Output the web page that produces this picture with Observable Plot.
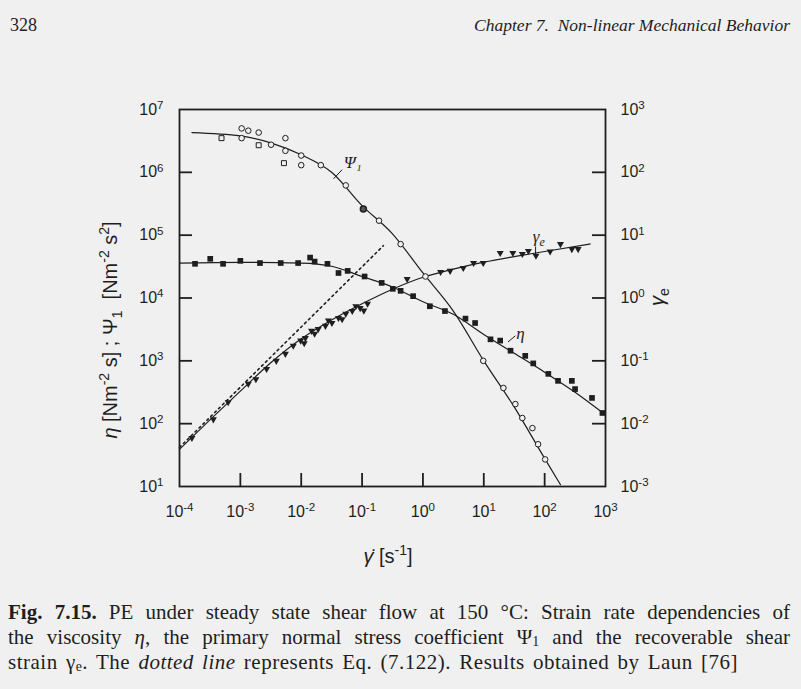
<!DOCTYPE html>
<html><head><meta charset="utf-8">
<script src="https://cdn.jsdelivr.net/npm/d3@7"></script>
<script src="https://cdn.jsdelivr.net/npm/@observablehq/plot@0.6"></script>
<style>
html,body{margin:0;padding:0;}
body{width:801px;height:689px;background:#f0f0f0;position:relative;overflow:hidden;font-family:"Liberation Serif","DejaVu Serif",serif;color:#1e1e1e;}
.abs{position:absolute;white-space:nowrap;}
#chart{position:absolute;left:0;top:0;}
.cap{position:absolute;left:8px;width:782px;font-size:21px;line-height:25px;white-space:nowrap;}
.just{text-align:justify;text-align-last:justify;}
.lab{font-family:"Liberation Sans","DejaVu Sans",sans-serif;font-size:20px;}
sup,sub{font-size:0.7em;line-height:0;}
.cap sub{vertical-align:-0.12em;font-size:0.66em;}
</style></head><body>
<div class="abs" style="left:10px;top:15px;font-size:18px;">328</div>
<div class="abs" style="right:11px;top:15px;font-size:17.5px;font-style:italic;">Chapter 7.&nbsp; Non-linear Mechanical Behavior</div>
<div id="chart"></div>
<div class="abs lab" style="left:110px;top:330px;transform:translate(-50%,-50%) rotate(-90deg);"><i>η</i> [Nm<sup>-2</sup> s] ; Ψ<sub>1</sub> &nbsp;[Nm<sup>-2</sup> s<sup>2</sup>]</div>
<div class="abs lab" style="left:657px;top:297px;transform:translate(-50%,-50%) rotate(-90deg);"><i>γ</i><sub>e</sub></div>
<div class="abs lab" style="left:388px;top:556px;transform:translate(-50%,-50%);"><i>γ̇</i> [s<sup>-1</sup>]</div>
<div class="cap just" style="top:600px;"><b>Fig. 7.15.</b> PE under steady state shear flow at 150 °C: Strain rate dependencies of</div>
<div class="cap just" style="top:625px;">the viscosity <i>η</i>, the primary normal stress coefficient Ψ<sub>1</sub> and the recoverable shear</div>
<div class="cap" style="top:650px;letter-spacing:0.5px;word-spacing:2.5px;">strain γ<sub>e</sub>. The <i>dotted line</i> represents Eq. (7.122). Results obtained by Laun [76]</div>
<script>
// ---- axes ----
const xTicks = [1e-4, 1e-3, 1e-2, 1e-1, 1, 10, 100, 1000];
const leftTicks = [10, 100, 1e3, 1e4, 1e5, 1e6, 1e7];
const rightOffset = 1e4; // right axis (gamma_e) = left axis / 1e4

// ---- Psi_1 (primary normal stress coefficient) markers ----
const psiRate = [4.9e-4, 1.05e-3, 1.05e-3, 1.35e-3, 2.0e-3, 2.0e-3, 3.2e-3, 5.5e-3, 5.5e-3, 5.2e-3, 1.0e-2, 1.0e-2, 2.1e-2, 5.4e-2, 0.105, 0.19, 0.43, 1.1, 9.8, 21, 33, 43, 63, 78, 102];
const psiVal  = [3.5e6, 5.0e6, 3.5e6, 4.6e6, 4.3e6, 2.7e6, 2.75e6, 3.5e6, 2.2e6, 1.4e6, 1.85e6, 1.3e6, 1.3e6, 6.2e5, 2.6e5, 1.7e5, 7.2e4, 2.2e4, 1.0e3, 370, 205, 123, 85, 47, 27];
const psiKind = ["square","circle","circle","circle","circle","square","circle","circle","circle","square","circle","circle","circle","circle","filled","circle","circle","circle","circle","circle","circle","circle","circle","circle","circle"];
// Psi_1 fitted curve
const psiLineRate = [1.6e-4, 1e-3, 3.16e-3, 1e-2, 3.16e-2, 0.1, 0.316, 1, 3.16, 10, 31.6, 100, 182];
const psiLineVal  = [4.3e6, 3.8e6, 2.95e6, 1.9e6, 1.0e6, 2.95e5, 1.05e5, 2.5e4, 6.2e3, 1.0e3, 185, 28, 10.7];

// ---- eta (viscosity) markers ----
const etaRate = [1.8e-4, 3.2e-4, 5.2e-4, 1e-3, 2.1e-3, 4.6e-3, 8.9e-3, 1.4e-2, 1.66e-2, 2.7e-2, 4.1e-2, 5.8e-2, 0.11, 0.21, 0.32, 0.43, 0.69, 1.3, 2.3, 5.0, 7.2, 12.9, 18.6, 27.5, 48, 65, 115, 166, 280, 316, 600, 890];
const etaVal  = [3.5e4, 4.2e4, 3.5e4, 3.9e4, 3.6e4, 3.6e4, 3.6e4, 4.4e4, 3.8e4, 3.5e4, 2.5e4, 2.7e4, 2.2e4, 1.74e4, 1.4e4, 1.3e4, 1.07e4, 7.4e3, 6.2e3, 4.7e3, 4.0e3, 2.2e3, 2.1e3, 1.45e3, 1.2e3, 910, 620, 480, 480, 355, 257, 148];
const etaLineRate = [1e-4, 1e-3, 1e-2, 3.16e-2, 0.1, 0.316, 1, 3.16, 10, 31.6, 100, 316, 890];
const etaLineVal  = [3.6e4, 3.7e4, 3.6e4, 3.2e4, 2.2e4, 1.5e4, 8.7e3, 5.5e3, 2.63e3, 1.32e3, 660, 316, 150];

// ---- gamma_e (recoverable shear strain) markers, right axis ----
const geRate = [1.6e-4, 3.6e-4, 6.3e-4, 1.35e-3, 1.8e-3, 2.7e-3, 3.9e-3, 5.5e-3, 7.4e-3, 9.8e-3, 1.12e-2, 1.17e-2, 1.48e-2, 1.66e-2, 1.9e-2, 2.5e-2, 2.8e-2, 3.2e-2, 4.1e-2, 4.7e-2, 5.4e-2, 6.9e-2, 7.9e-2, 9.3e-2, 0.107, 0.123, 0.55, 1.95, 2.8, 4.6, 6.8, 9.8, 18.6, 30, 43, 54, 72, 123, 182, 280, 355];
const geVal  = [5.9e-3, 1.17e-2, 2.2e-2, 4.3e-2, 5.1e-2, 7.4e-2, 0.10, 0.129, 0.174, 0.21, 0.19, 0.23, 0.30, 0.27, 0.32, 0.36, 0.44, 0.40, 0.48, 0.46, 0.56, 0.62, 0.74, 0.69, 0.63, 0.81, 2.0, 2.6, 2.7, 3.0, 3.6, 3.6, 5.2, 5.2, 5.0, 5.6, 4.7, 5.5, 7.2, 6.0, 6.0];
const geLineRate = [1e-4, 3.16e-4, 1e-3, 3.16e-3, 1e-2, 3.16e-2, 0.1, 0.316, 1, 3.16, 10, 31.6, 100, 562];
const geLineVal  = [3.9e-3, 1.15e-2, 3.3e-2, 9.3e-2, 0.224, 0.447, 0.81, 1.38, 2.14, 2.88, 3.72, 4.57, 5.5, 7.24];
// dotted line: Eq. (7.122)
const eqRate = [1e-4, 0.224];
const eqVal  = [4.2e-3, 6.8];

// ---- curve annotations ----
const annText = ["Ψ₁", "η", "γe"];
const annRate = [0.05, 34, 64];
const annVal  = [1.43e6, 2.7e3, 9.4e4];
const leadRate1 = [0.034, 25, 71];
const leadVal1  = [7.9e5, 2.0e3, 6.6e4];
const leadRate2 = [0.047, 33, 71];
const leadVal2  = [1.1e6, 2.5e3, 4.75e4];

const zip = (xs, ys, extra = {}) => xs.map((x, i) => Object.assign({x, y: ys[i]}, Object.fromEntries(Object.entries(extra).map(([k, v]) => [k, v[i]]))));
const psi = zip(psiRate, psiVal, {k: psiKind});
const eta = zip(etaRate, etaVal);
const ge = zip(geRate, geVal.map(v => v * rightOffset));
const psiLine = zip(psiLineRate, psiLineVal);
const etaLine = zip(etaLineRate, etaLineVal);
const geLine = zip(geLineRate, geLineVal.map(v => v * rightOffset));
const eqLine = zip(eqRate, eqVal.map(v => v * rightOffset));
const ann = zip(annRate, annVal, {t: annText});
const leads = leadRate1.map((x, i) => ({x1: x, y1: leadVal1[i], x2: leadRate2[i], y2: leadVal2[i]}));

const ink = "#1e1e1e";
const W = 801, H = 580;
const mL = 179, mR = 196, mT = 109, mB = 94;
const fw = W - mL - mR, fh = H - mT - mB;
const e10 = d => Math.round(Math.log10(d));

const plot = Plot.plot({
  width: W, height: H,
  marginLeft: mL, marginRight: mR, marginTop: mT, marginBottom: mB,
  style: {background: "transparent", color: ink, fontFamily: "'Liberation Sans','DejaVu Sans',sans-serif", fontSize: "16px"},
  x: {type: "log", domain: [1e-4, 1e3]},
  y: {type: "log", domain: [10, 1e7]},
  marks: [
    Plot.frame({stroke: ink, strokeWidth: 1.8}),
    Plot.tickX(xTicks.slice(1, -1), {x: d => d, insetTop: fh - 13, stroke: ink, strokeWidth: 1.8}),
    Plot.tickY(leftTicks.slice(1, -1), {y: d => d, insetRight: fw - 13, stroke: ink, strokeWidth: 1.8}),
    Plot.tickY(leftTicks.slice(1, -1), {y: d => d, insetLeft: fw - 13, stroke: ink, strokeWidth: 1.8}),
    Plot.axisX({ticks: xTicks, tickSize: 0, tickPadding: 19, tickFormat: d => "10^" + e10(d), label: null}),
    Plot.axisY({ticks: leftTicks, tickSize: 0, tickPadding: 16, tickFormat: d => "10^" + e10(d), label: null}),
    Plot.axisY({anchor: "right", ticks: leftTicks, tickSize: 0, tickPadding: 15, tickFormat: d => "10^" + (e10(d) - 4), label: null}),
    Plot.line(eqLine, {x: "x", y: "y", stroke: ink, strokeWidth: 1.6, strokeDasharray: "2,3.5"}),
    Plot.line(psiLine, {x: "x", y: "y", curve: "monotone-x", stroke: ink, strokeWidth: 1.2}),
    Plot.line(etaLine, {x: "x", y: "y", curve: "monotone-x", stroke: ink, strokeWidth: 1.2}),
    Plot.line(geLine, {x: "x", y: "y", curve: "monotone-x", stroke: ink, strokeWidth: 1.2}),
    Plot.dot(eta, {x: "x", y: "y", symbol: "square", r: 3.2, fill: ink, stroke: null}),
    Plot.dot(ge, {x: "x", y: "y", symbol: "triangle", rotate: 180, r: 2.6, fill: ink, stroke: null}),
    Plot.dot(psi.filter(d => d.k === "circle"), {x: "x", y: "y", symbol: "circle", r: 2.8, fill: "#f0f0f0", stroke: ink, strokeWidth: 1}),
    Plot.dot(psi.filter(d => d.k === "square"), {x: "x", y: "y", symbol: "square", r: 2.8, fill: "#f0f0f0", stroke: ink, strokeWidth: 1}),
    Plot.dot(psi.filter(d => d.k === "filled"), {x: "x", y: "y", symbol: "circle", r: 3, fill: "#555", stroke: ink}),
    Plot.link(leads, {x1: "x1", y1: "y1", x2: "x2", y2: "y2", stroke: ink, strokeWidth: 1}),
    Plot.text(ann, {x: "x", y: "y", text: "t", textAnchor: "start", fontSize: 17, fontFamily: "'Liberation Serif','DejaVu Serif',serif", fontStyle: "italic", fill: ink})
  ]
});

// superscript exponents on tick labels
d3.select(plot).selectAll('g[aria-label$="tick label"] text').each(function () {
  const t = this.textContent; const parts = t.split("^");
  if (parts.length < 2) return;
  const s = d3.select(this); s.text(parts[0]);
  s.append("tspan").attr("dy", "-0.5em").attr("font-size", "0.72em").text(parts[1]);
});
// subscript on the gamma_e annotation
d3.select(plot).selectAll('g[aria-label="text"] text').each(function () {
  if (this.textContent === "γe") {
    const s = d3.select(this); s.text("γ");
    s.append("tspan").attr("dy", "0.3em").attr("font-size", "0.7em").text("e");
  }
});
document.getElementById("chart").appendChild(plot);
</script>
</body></html>
